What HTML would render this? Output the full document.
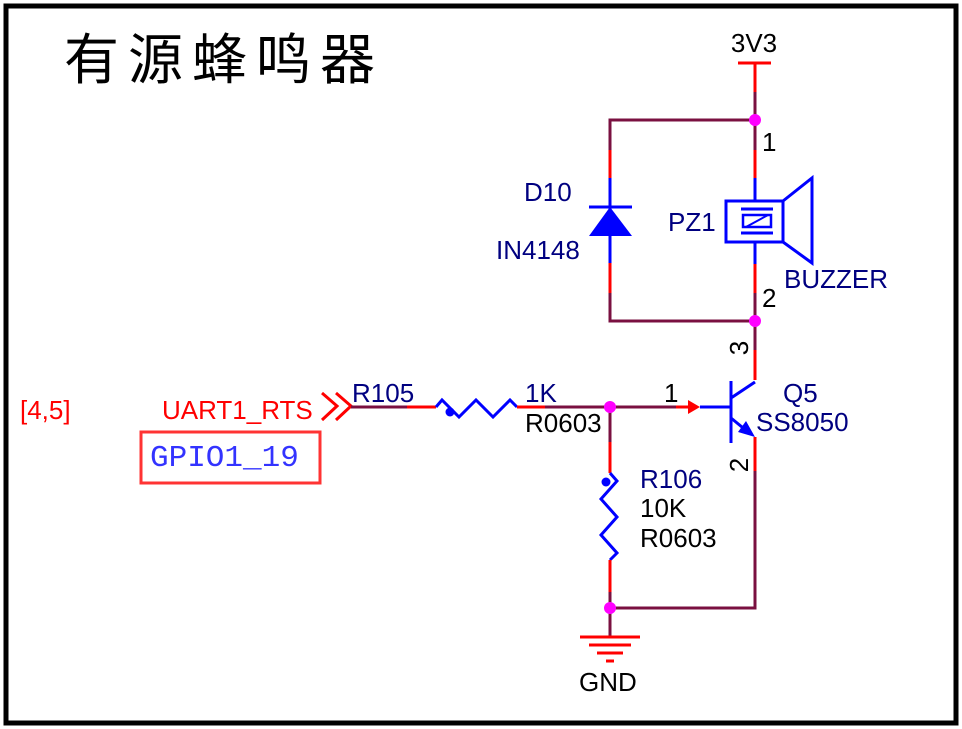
<!DOCTYPE html>
<html><head><meta charset="utf-8"><style>
html,body{margin:0;padding:0;background:#fff}
svg{display:block}
</style></head><body>
<svg width="962" height="729" viewBox="0 0 962 729" xmlns="http://www.w3.org/2000/svg" font-family="Liberation Sans, sans-serif">
<rect x="0" y="0" width="962" height="729" fill="#fff"/>
<rect x="6" y="6" width="950" height="717" fill="none" stroke="#000" stroke-width="5"/>
<text x="64" y="79" style="font-size:55px;font-family:'Noto Sans CJK SC',sans-serif;letter-spacing:9px" fill="#000">有源蜂鸣器</text>

<g fill="none" stroke-width="3">
<line x1="738" y1="63" x2="771" y2="63" stroke="#f00"/>
<line x1="755" y1="63" x2="755" y2="92" stroke="#f00"/>
<line x1="755" y1="92" x2="755" y2="150" stroke="#7a1040"/>
<polyline points="755,120 610,120 610,150" stroke="#7a1040"/>
<line x1="610" y1="150" x2="610" y2="178" stroke="#f00"/>
<line x1="610" y1="178" x2="610" y2="263" stroke="#00f"/>
<line x1="610" y1="263" x2="610" y2="293" stroke="#f00"/>
<polyline points="610,293 610,321 755,321" stroke="#7a1040"/>
<line x1="755" y1="150" x2="755" y2="178" stroke="#f00"/>
<line x1="755" y1="178" x2="755" y2="200" stroke="#00f"/>
<line x1="755" y1="242" x2="755" y2="264" stroke="#00f"/>
<line x1="755" y1="264" x2="755" y2="293" stroke="#f00"/>
<line x1="755" y1="293" x2="755" y2="350" stroke="#7a1040"/>
<line x1="755" y1="350" x2="755" y2="380" stroke="#f00"/>
<rect x="726" y="201" width="57" height="41" stroke="#00f"/>
<line x1="741" y1="209" x2="773" y2="209" stroke="#00f"/>
<line x1="741" y1="233" x2="773" y2="233" stroke="#00f"/>
<rect x="743" y="215" width="28" height="12" stroke="#00f" stroke-width="2.5"/>
<line x1="746" y1="227" x2="768" y2="215" stroke="#00f" stroke-width="2"/>
<polyline points="783,201 812,178 812,263 783,242" stroke="#00f"/>
<line x1="589" y1="207" x2="632" y2="207" stroke="#00f"/>
<polyline points="322,393 337,406 322,420" stroke="#f00"/>
<polyline points="336,393 351,406 336,420" stroke="#f00"/>
<line x1="351" y1="407" x2="407" y2="407" stroke="#7a1040"/>
<line x1="407" y1="407" x2="436" y2="407" stroke="#f00"/>
<polyline points="436,407 442,400 459,417 476,400 493,417 510,400 517,407" stroke="#00f"/>
<line x1="517" y1="407" x2="545" y2="407" stroke="#f00"/>
<line x1="545" y1="407" x2="676" y2="407" stroke="#7a1040"/>
<line x1="676" y1="407" x2="690" y2="407" stroke="#f00"/>
<line x1="700" y1="407" x2="730" y2="407" stroke="#00f"/>
<line x1="731" y1="381" x2="731" y2="443" stroke="#00f"/>
<line x1="731" y1="398" x2="755" y2="382" stroke="#00f"/>
<line x1="731" y1="418" x2="748" y2="432" stroke="#00f"/>
<line x1="755" y1="437" x2="755" y2="471" stroke="#f00"/>
<polyline points="755,471 755,608 610,608" stroke="#7a1040"/>
<line x1="610" y1="407" x2="610" y2="442" stroke="#7a1040"/>
<line x1="610" y1="442" x2="610" y2="473" stroke="#f00"/>
<polyline points="610,473 617,481 601,499 617,517 601,535 617,553 610,560" stroke="#00f"/>
<line x1="610" y1="560" x2="610" y2="592" stroke="#f00"/>
<line x1="610" y1="592" x2="610" y2="636" stroke="#7a1040"/>
<line x1="580" y1="637" x2="640" y2="637" stroke="#f00"/>
<line x1="589" y1="645" x2="631" y2="645" stroke="#f00"/>
<line x1="597" y1="653" x2="623" y2="653" stroke="#f00"/>
<line x1="606" y1="661" x2="614" y2="661" stroke="#f00"/>
</g>
<polygon points="610,207 589,236 632,236" fill="#00f"/>
<polygon points="688,400 700,407 688,414" fill="#f00"/>
<polygon points="738,432 755,437 746,421" fill="#00f"/>
<circle cx="450" cy="412" r="4.5" fill="#00f"/>
<circle cx="606" cy="482" r="4.5" fill="#00f"/>
<g fill="#f0f">
<circle cx="755" cy="120" r="6"/><circle cx="755" cy="321" r="6"/>
<circle cx="610" cy="407" r="6"/><circle cx="610" cy="608" r="6"/>
</g>
<rect x="141" y="432" width="179" height="51" fill="none" stroke="#f33" stroke-width="3"/>

<g style="font-size:26px;font-family:'Liberation Sans',sans-serif">
<text x="754" y="52" text-anchor="middle" fill="#000">3V3</text>
<text x="762" y="151" fill="#000">1</text>
<text x="762" y="307" fill="#000">2</text>
<text x="524" y="201" fill="#000080">D10</text>
<text x="496" y="259" fill="#000080">IN4148</text>
<text x="668" y="231" fill="#000080">PZ1</text>
<text x="784" y="288" fill="#000080">BUZZER</text>
<text x="20" y="419" fill="#f00">[4,5]</text>
<text x="162" y="419" fill="#f00">UART1_RTS</text>
<text x="352" y="402" fill="#000080">R105</text>
<text x="525" y="402" fill="#000080">1K</text>
<text x="525" y="432" fill="#000">R0603</text>
<text x="664" y="402" fill="#000">1</text>
<text x="783" y="402" fill="#000080">Q5</text>
<text x="756" y="431" fill="#000080">SS8050</text>
<text x="640" y="488" fill="#000080">R106</text>
<text x="640" y="517" fill="#000">10K</text>
<text x="640" y="547" fill="#000">R0603</text>
<text x="579" y="691" fill="#000">GND</text>
<text transform="translate(748,348) rotate(-90)" fill="#000" text-anchor="middle">3</text>
<text transform="translate(748,465) rotate(-90)" fill="#000" text-anchor="middle">2</text>
</g>
<text x="150" y="466" style="font-size:31px;font-family:'Liberation Mono',monospace" fill="#33f">GPIO1_19</text>
</svg>
</body></html>
